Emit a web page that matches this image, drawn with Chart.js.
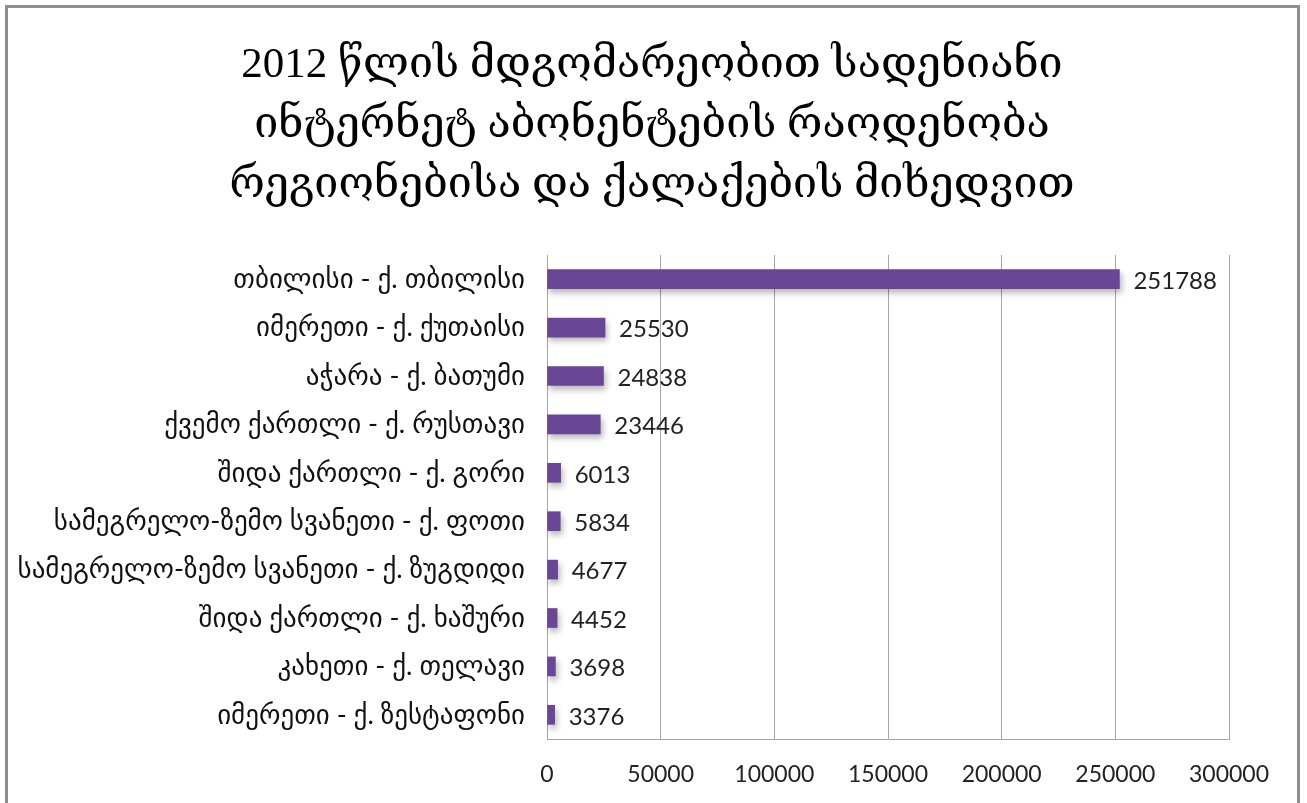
<!DOCTYPE html>
<html>
<head>
<meta charset="utf-8">
<script src="https://cdn.jsdelivr.net/npm/chart.js@4/dist/chart.umd.min.js"></script>
<style>
  html, body { margin: 0; padding: 0; background: #fff; overflow: hidden; }
  #wrap { position: absolute; left: 0; top: 0; width: 1307px; height: 803px; }
  #frame { position: absolute; left: 5px; top: 5px; width: 1289px; height: 820px; border: 3px solid #8e8e8e; pointer-events: none; }
</style>
</head>
<body>
<div id="wrap"><canvas id="c"></canvas></div>
<div id="frame"></div>
<script>
// --- data ---
const titleLines = [
    '2012 წლის მდგომარეობით სადენიანი',
    'ინტერნეტ აბონენტების რაოდენობა',
    'რეგიონებისა და ქალაქების მიხედვით'
];
const categories = [
    'თბილისი - ქ. თბილისი',
    'იმერეთი - ქ. ქუთაისი',
    'აჭარა - ქ. ბათუმი',
    'ქვემო ქართლი - ქ. რუსთავი',
    'შიდა ქართლი - ქ. გორი',
    'სამეგრელო-ზემო სვანეთი - ქ. ფოთი',
    'სამეგრელო-ზემო სვანეთი - ქ. ზუგდიდი',
    'შიდა ქართლი - ქ. ხაშური',
    'კახეთი - ქ. თელავი',
    'იმერეთი - ქ. ზესტაფონი'
];
const subscribers = [251788, 25530, 24838, 23446, 6013, 5834, 4677, 4452, 3698, 3376];
const xTicks = [0, 50000, 100000, 150000, 200000, 250000, 300000];

const FONT = "Lato, 'DejaVu Sans', sans-serif";
const TITLE_FONT = "'Liberation Serif', 'DejaVu Serif', serif";

// purple bar with a vertical gradient
function barFill(context) {
    const chart = context.chart;
    const el = context.element;
    if (!chart.chartArea || !el) return '#6a4796';
    const h = el.height || 19;
    const y0 = el.y - h / 2, y1 = el.y + h / 2;
    if (!isFinite(y0) || !isFinite(y1)) return '#6a4796';
    const g = chart.ctx.createLinearGradient(0, y0, 0, y1);
    g.addColorStop(0, '#7c58a6');
    g.addColorStop(0.5, '#6e4b99');
    g.addColorStop(1, '#5b3a83');
    return g;
}

// soft drop shadow under the bars
const barShadow = {
    id: 'barShadow',
    beforeDatasetDraw(chart) {
        const ctx = chart.ctx;
        ctx.save();
        ctx.shadowColor = 'rgba(0,0,0,0.28)';
        ctx.shadowBlur = 6;
        ctx.shadowOffsetX = 2;
        ctx.shadowOffsetY = 4;
    },
    afterDatasetDraw(chart) {
        chart.ctx.restore();
    }
};

// numbers at the end of each bar
const valueLabels = {
    id: 'valueLabels',
    afterDatasetsDraw(chart) {
        const ctx = chart.ctx;
        const meta = chart.getDatasetMeta(0);
        ctx.save();
        ctx.font = "24px " + FONT;
        ctx.fillStyle = '#222';
        ctx.textAlign = 'left';
        ctx.textBaseline = 'middle';
        meta.data.forEach((bar, i) => {
            ctx.fillText(String(subscribers[i]), bar.x + 14, bar.y + 2);
        });
        ctx.restore();
    }
};

// three-line title centred on the frame
const bigTitle = {
    id: 'bigTitle',
    afterDraw(chart) {
        const ctx = chart.ctx;
        ctx.save();
        ctx.font = "43px " + TITLE_FONT;
        ctx.fillStyle = '#000';
        ctx.textAlign = 'center';
        ctx.textBaseline = 'alphabetic';
        titleLines.forEach((t, i) => ctx.fillText(t, 652, 77 + i * 60));
        ctx.restore();
    }
};

new Chart(document.getElementById('c'), {
    type: 'bar',
    data: {
        labels: categories,
        datasets: [{
            data: subscribers,
            backgroundColor: barFill,
            borderWidth: 0,
            barThickness: 19
        }]
    },
    options: {
        indexAxis: 'y',
        responsive: true,
        maintainAspectRatio: false,
        animation: false,
        layout: { padding: { left: 0, right: 78, top: 255, bottom: 0 } },
        plugins: {
            legend: { display: false },
            tooltip: { enabled: false },
            title: { display: false }
        },
        scales: {
            x: {
                min: 0, max: 300000,
                afterBuildTicks: axis => { axis.ticks = xTicks.map(v => ({ value: v })); },
                afterFit: axis => { axis.height = 64; },
                grid: { color: '#a6a6a6', drawTicks: false },
                border: { display: true, color: '#a6a6a6' },
                ticks: { color: '#222', font: { family: FONT, size: 23 }, padding: 22, maxRotation: 0,
                         callback: v => String(v) }
            },
            y: {
                afterFit: axis => { axis.width = 547; },
                grid: { display: false, drawTicks: false },
                border: { display: true, color: '#a6a6a6' },
                ticks: { color: '#111', font: { family: FONT, size: 27 }, padding: 22 }
            }
        }
    },
    plugins: [barShadow, valueLabels, bigTitle]
});
</script>
</body>
</html>
